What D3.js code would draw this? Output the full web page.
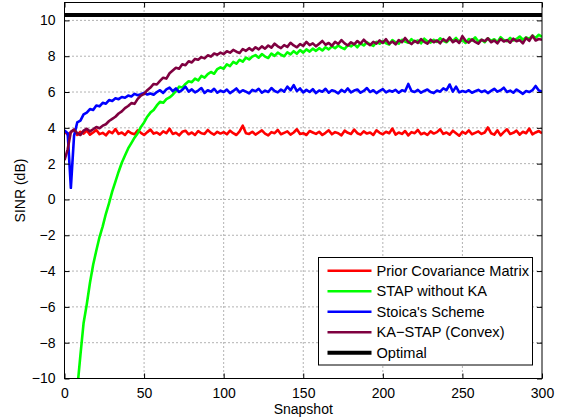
<!DOCTYPE html>
<html>
<head>
<meta charset="utf-8">
<script src="https://cdn.jsdelivr.net/npm/d3@7"></script>
<style>
  body { margin: 0; background: #fff; }
  text { font-family: "Liberation Sans", Arial, Helvetica, sans-serif; }
</style>
</head>
<body>
<div id="chart"></div>
<script>
// snapshot index, every 2nd snapshot from 0 to 300
const snapshots = d3.range(0, 301, 2);

const xTicks = [0, 50, 100, 150, 200, 250, 300];
const yTicks = [-10, -8, -6, -4, -2, 0, 2, 4, 6, 8, 10];

const seriesNames = ["Prior Covariance Matrix", "STAP without KA", "Stoica's Scheme", "KA\u2212STAP (Convex)", "Optimal"];

const priorCov = [
  3.80, 3.62, 3.75, 3.90, 3.60, 3.78, 3.68, 3.85, 3.62, 3.74,
  3.88, 3.65, 3.72, 3.58, 3.80, 3.70, 3.93, 3.66, 3.74, 3.60,
  3.82, 3.70, 3.64, 3.86, 3.72, 3.60, 3.76, 3.90, 3.68, 3.74,
  3.62, 3.80, 3.70, 3.95, 3.66, 3.72, 3.58, 3.78, 3.84, 3.64,
  3.74, 3.60, 3.82, 3.70, 3.66, 3.88, 3.72, 3.62, 3.78, 3.68,
  3.76, 3.64, 3.84, 3.70, 3.60, 3.80, 4.12, 3.70, 3.66, 3.78,
  3.62, 3.74, 3.86, 3.68, 3.58, 3.76, 3.70, 3.88, 3.64, 3.72,
  3.80, 3.62, 3.74, 3.92, 3.66, 3.70, 3.60, 3.82, 3.74, 3.66,
  3.78, 3.60, 3.72, 3.86, 3.64, 3.76, 3.70, 3.58, 3.84, 3.72,
  3.66, 3.90, 3.70, 3.62, 3.80, 3.68, 3.74, 3.60, 3.86, 3.72,
  3.64, 3.78, 3.70, 3.96, 3.62, 3.74, 3.66, 3.82, 3.58, 3.76,
  3.70, 3.88, 3.64, 3.72, 3.60, 3.80, 3.68, 3.76, 3.92, 3.66,
  3.74, 3.62, 3.84, 3.70, 3.56, 3.78, 3.68, 3.86, 3.64, 3.72,
  3.80, 3.66, 3.74, 4.02, 3.70, 3.62, 3.86, 3.58, 3.76, 3.92,
  3.66, 3.72, 3.84, 3.62, 3.78, 3.70, 3.96, 3.64, 3.74, 3.82,
  3.70
];

// null where the curve is below the axis (clipped)
const stapNoKA = [
  null, null, null, null, -10.6, -8.70, -6.90, -5.85, -4.65, -3.65,
  -2.85, -2.10, -1.50, -0.80, -0.20, 0.45, 1.00, 1.55, 2.05, 2.45,
  2.85, 3.15, 3.45, 3.70, 4.05, 4.30, 4.62, 4.85, 5.00, 5.25,
  5.45, 5.40, 5.60, 5.70, 5.85, 6.05, 6.30, 6.25, 6.45, 6.60,
  6.55, 6.75, 6.65, 6.90, 6.80, 7.00, 7.12, 7.02, 7.28, 7.38,
  7.30, 7.55, 7.45, 7.68, 7.58, 7.80, 7.70, 7.92, 7.82, 7.98,
  8.06, 7.92, 8.12, 7.98, 7.90, 8.15, 8.02, 8.20, 8.08, 8.00,
  8.22, 8.10, 8.28, 8.14, 8.34, 8.20, 8.38, 8.26, 8.42, 8.30,
  8.45, 8.32, 8.50, 8.38, 8.55, 8.45, 8.60, 8.48, 8.40, 8.62,
  8.55, 8.68, 8.50, 8.72, 8.60, 8.78, 8.66, 8.58, 8.80, 8.70,
  8.85, 8.72, 8.65, 8.90, 8.78, 8.70, 8.92, 8.82, 8.75, 8.95,
  8.80, 8.88, 8.72, 8.98, 8.84, 8.76, 8.92, 8.80, 9.00, 8.86,
  8.78, 8.95, 8.85, 9.02, 8.80, 8.90, 8.74, 8.96, 8.88, 9.05,
  8.82, 8.92, 8.78, 9.00, 8.86, 8.95, 8.80, 9.06, 8.90, 8.84,
  9.02, 8.88, 8.96, 9.10, 8.92, 9.05, 8.98, 9.15, 9.02, 9.20,
  9.08
];

const stoica = [
  3.85, 3.70, 0.65, 3.55, 4.30, 4.40, 4.75, 4.85, 5.05, 5.00,
  5.25, 5.20, 5.40, 5.35, 5.55, 5.50, 5.65, 5.60, 5.72, 5.68,
  5.80, 5.75, 5.90, 5.82, 5.88, 5.95, 5.86, 5.92, 5.85, 6.00,
  6.10, 5.95, 6.15, 6.25, 6.05, 6.20, 6.00, 6.12, 6.30, 6.02,
  6.15, 5.98, 6.08, 6.22, 5.95, 6.10, 6.02, 6.18, 5.96, 6.08,
  6.00, 6.14, 5.94, 6.06, 6.20, 5.98, 6.10, 6.02, 5.92, 6.12,
  6.04, 6.18, 5.96, 6.08, 6.00, 6.22, 6.06, 5.98, 6.14, 6.02,
  6.30, 6.10, 6.38, 6.05, 6.20, 5.98, 6.12, 6.00, 6.16, 5.94,
  6.08, 6.02, 6.18, 5.96, 6.10, 6.04, 5.92, 6.12, 6.00, 6.20,
  5.98, 6.08, 6.14, 5.96, 6.06, 6.22, 6.00, 6.10, 5.94, 6.06,
  6.16, 5.98, 6.08, 6.02, 6.12, 5.96, 6.10, 6.04, 6.45, 6.06,
  6.00, 6.12, 5.96, 6.06, 6.14, 6.00, 5.94, 6.08, 6.02, 6.20,
  6.10, 6.42, 6.02, 6.30, 5.98, 6.06, 6.00, 6.10, 5.96, 6.04,
  6.12, 6.00, 6.08, 5.94, 6.06, 6.18, 6.02, 6.10, 6.24, 6.00,
  6.08, 5.96, 6.14, 6.02, 5.90, 6.06, 6.00, 6.10, 6.34, 6.08,
  6.02
];

const kaStap = [
  2.20, 2.80, 3.78, 3.90, 3.70, 3.60, 3.85, 3.95, 3.80, 3.92,
  4.05, 3.98, 4.12, 4.20, 4.38, 4.50, 4.62, 4.80, 4.92, 5.10,
  5.22, 5.38, 5.34, 5.62, 5.80, 5.90, 6.10, 6.25, 6.45, 6.42,
  6.62, 6.80, 6.75, 7.05, 7.20, 7.35, 7.30, 7.55, 7.50, 7.72,
  7.65, 7.85, 7.80, 7.95, 7.88, 8.05, 7.98, 8.15, 8.08, 8.20,
  8.12, 8.28, 8.20, 8.35, 8.25, 8.18, 8.40, 8.30, 8.45, 8.32,
  8.50, 8.38, 8.55, 8.42, 8.60, 8.48, 8.70, 8.55, 8.45, 8.62,
  8.52, 8.75, 8.60, 8.50, 8.68, 8.58, 8.80, 8.62, 8.72, 8.55,
  8.70, 8.85, 8.64, 8.74, 8.58, 8.80, 8.68, 8.90, 8.72, 8.60,
  8.78, 8.66, 8.85, 8.70, 8.92, 8.74, 8.62, 8.80, 8.70, 8.88,
  8.74, 8.95, 8.70, 8.82, 8.66, 8.90, 8.78, 9.02, 8.80, 8.68,
  8.86, 8.74, 8.96, 8.80, 8.70, 8.92, 8.78, 8.88, 8.72, 8.95,
  8.82, 9.05, 8.78, 8.90, 8.74, 9.12, 8.86, 8.76, 8.94, 8.80,
  8.70, 8.92, 8.84, 9.00, 8.78, 8.88, 8.72, 8.96, 8.82, 8.90,
  8.76, 8.98, 8.84, 8.90, 8.72, 9.02, 8.86, 9.15, 8.88, 8.96,
  8.92
];

const optimal = 10.3;

const seriesColors = ["#ff0000", "#00ff00", "#0000ff", "#7f0040", "#000000"];

const W = 564, H = 419;
const margin = {top: 2.5, left: 64.5, right: 22, bottom: 40.5};
const width = W - margin.left - margin.right,
    height = H - margin.top - margin.bottom;

const svg = d3.select("#chart").append("svg")
    .attr("width", W)
    .attr("height", H);

const g = svg.append("g")
    .attr("transform", "translate(" + margin.left + "," + margin.top + ")");

const x = d3.scaleLinear().domain([0, 300]).range([0, width]);
const y = d3.scaleLinear().domain([-10, 11]).range([height, 0]);

// dotted grid
g.append("g").selectAll("line")
    .data(xTicks.slice(1, -1))
    .enter().append("line")
    .attr("x1", d => x(d)).attr("x2", d => x(d))
    .attr("y1", 0).attr("y2", height)
    .attr("stroke", "#666").attr("stroke-width", 1)
    .attr("stroke-dasharray", "1,3");
g.append("g").selectAll("line")
    .data(yTicks.slice(1))
    .enter().append("line")
    .attr("x1", 0).attr("x2", width)
    .attr("y1", d => y(d)).attr("y2", d => y(d))
    .attr("stroke", "#666").attr("stroke-width", 1)
    .attr("stroke-dasharray", "1,3");

// clip for the curves
svg.append("clipPath").attr("id", "plot-clip")
    .append("rect").attr("x", 0).attr("y", 0).attr("width", width).attr("height", height);

const plot = g.append("g").attr("clip-path", "url(#plot-clip)");

const line = d3.line()
    .defined(d => d[1] !== null)
    .x(d => x(d[0]))
    .y(d => y(d[1]));

const curves = [priorCov, stapNoKA, stoica, kaStap];
// draw order: red, green, blue, purple (purple on top)
curves.forEach((vals, i) => {
    plot.append("path")
        .datum(snapshots.map((s, j) => [s, vals[j]]))
        .attr("fill", "none")
        .attr("stroke", seriesColors[i])
        .attr("stroke-width", 2.6)
        .attr("stroke-linejoin", "round")
        .attr("d", line);
});

plot.append("path")
    .datum([[0, optimal], [300, optimal]])
    .attr("fill", "none")
    .attr("stroke", seriesColors[4])
    .attr("stroke-width", 4)
    .attr("d", line);

// axes: ticks inward on all four sides
const fmt = d3.format("d");
const xAxis = g.append("g")
    .attr("transform", "translate(0," + height + ")")
    .call(d3.axisBottom(x).tickValues(xTicks).tickSize(-5).tickPadding(10).tickFormat(fmt));
const xAxisTop = g.append("g")
    .call(d3.axisTop(x).tickValues(xTicks).tickSize(-5).tickFormat(""));
const yAxis = g.append("g")
    .call(d3.axisLeft(y).tickValues(yTicks).tickSize(-5).tickPadding(9).tickFormat(fmt));
const yAxisRight = g.append("g")
    .attr("transform", "translate(" + width + ",0)")
    .call(d3.axisRight(y).tickValues(yTicks).tickSize(-5).tickFormat(""));

[xAxis, xAxisTop, yAxis, yAxisRight].forEach(a => {
    a.select(".domain").remove();
    a.selectAll("line").attr("stroke", "#000");
    a.selectAll("text")
        .attr("fill", "#000")
        .style("font-size", "14px")
        .style("font-family", "'Liberation Sans', Arial, sans-serif");
});

g.append("rect")
    .attr("x", 0).attr("y", 0)
    .attr("width", width).attr("height", height)
    .attr("fill", "none").attr("stroke", "#000").attr("stroke-width", 1);

// axis labels
svg.append("text")
    .attr("x", margin.left + width / 2)
    .attr("y", 414)
    .attr("text-anchor", "middle")
    .style("font-size", "14px")
    .text("Snapshot");

svg.append("text")
    .attr("transform", "translate(25," + (margin.top + height / 2) + ") rotate(-90)")
    .attr("text-anchor", "middle")
    .style("font-size", "14px")
    .text("SINR (dB)");

// legend
const legend = svg.append("g").attr("transform", "translate(318.5,257.5)");
legend.append("rect")
    .attr("width", 214).attr("height", 107.5)
    .attr("fill", "#fff").attr("stroke", "#000").attr("stroke-width", 1);

const rows = legend.selectAll("g.row")
    .data(seriesNames)
    .enter().append("g")
    .attr("class", "row")
    .attr("transform", (d, i) => "translate(0," + (13.2 + i * 20.5) + ")");
rows.append("line")
    .attr("x1", 9).attr("x2", 53)
    .attr("stroke", (d, i) => seriesColors[i])
    .attr("stroke-width", (d, i) => i === 4 ? 4 : 2.6);
rows.append("text")
    .attr("x", 58)
    .attr("y", 5)
    .style("font-size", "14.6px")
    .text(d => d);
</script>
</body>
</html>
